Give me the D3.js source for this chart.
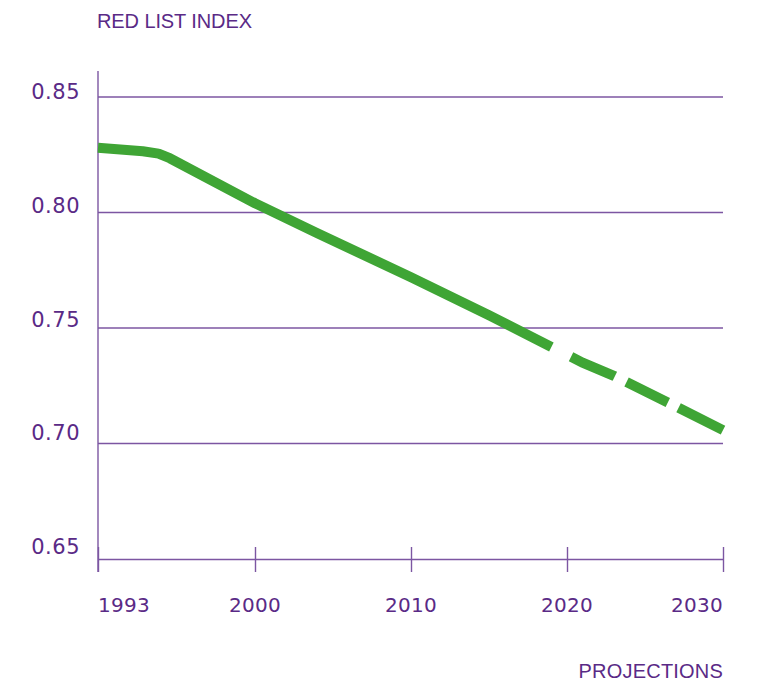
<!DOCTYPE html>
<html>
<head>
<meta charset="utf-8">
<script src="https://cdn.jsdelivr.net/npm/d3@7"></script>
<style>
  html, body { margin: 0; padding: 0; background: #fff; }
  svg { display: block; }
</style>
</head>
<body>
<svg id="chart" width="759" height="681"></svg>
<script>
// ---- data ----
const yTicks = [0.65, 0.70, 0.75, 0.80, 0.85];
const xTicks = [1993, 2000, 2010, 2020, 2030];
const histYears  = [1993, 1995, 1995.7, 1996.2, 2000, 2004, 2010, 2015, 2019];
const histValues = [0.828, 0.8265, 0.8255, 0.8235, 0.804, 0.791, 0.772, 0.7555, 0.7418];
const projYears  = [2019, 2021, 2023, 2027, 2030];
const projValues = [0.7418, 0.735, 0.7293, 0.716, 0.7058];
const yTitle = "RED LIST INDEX";
const xNote = "PROJECTIONS";

// ---- layout ----
const purple = "#5a2a86";
const gridCol = "#7c56a2";
const green = "#3fa535";
const svg = d3.select("#chart");

const x = d3.scaleLinear().domain([1993, 2000, 2030]).range([98, 255, 723]);
const y = d3.scaleLinear().domain([0.65, 0.85]).range([559, 97]);
const yLab = d3.scaleLinear().domain([0.65, 0.85]).range([554, 99]);

// gridlines
svg.append("g").selectAll("line")
  .data(yTicks.filter(d => d > 0.65))
  .join("line")
  .attr("x1", x(1993)).attr("x2", x(2030))
  .attr("y1", d => y(d)).attr("y2", d => y(d))
  .attr("stroke", gridCol).attr("stroke-width", 1.4);

// y axis line
svg.append("line")
  .attr("x1", x(1993)).attr("x2", x(1993))
  .attr("y1", 71).attr("y2", 572)
  .attr("stroke", gridCol).attr("stroke-width", 1.4);

// x axis
const xAxis = d3.axisBottom(x).tickValues(xTicks).tickSizeInner(13).tickSizeOuter(0).tickFormat("");
const gx = svg.append("g").attr("transform", `translate(0,${y(0.65)})`).call(xAxis);
gx.select(".domain").attr("stroke", gridCol).attr("stroke-width", 1.4);
gx.selectAll(".tick line").attr("stroke", gridCol).attr("stroke-width", 1.4).attr("y1", -12);

// x labels
svg.append("g").selectAll("text")
  .data(xTicks).join("text")
  .attr("x", d => x(d))
  .attr("y", 612)
  .attr("text-anchor", (d, i) => i === 0 ? "start" : (i === xTicks.length - 1 ? "end" : "middle"))
  .attr("font-family", "DejaVu Sans, sans-serif")
  .attr("font-size", 20)
  .attr("letter-spacing", 0.3)
  .attr("fill", purple)
  .text(d => d);

// y labels
svg.append("g").selectAll("text")
  .data(yTicks).join("text")
  .attr("x", 80)
  .attr("y", d => yLab(d))
  .attr("text-anchor", "end")
  .attr("font-family", "DejaVu Sans, sans-serif")
  .attr("font-size", 21)
  .attr("letter-spacing", 0.5)
  .attr("fill", purple)
  .text(d => d3.format(".2f")(d));

// titles
svg.append("text")
  .attr("x", 97).attr("y", 28)
  .attr("font-family", "Liberation Sans, Arial, sans-serif")
  .attr("font-size", 20)
  .attr("letter-spacing", -0.1)
  .attr("fill", purple)
  .text(yTitle);

svg.append("text")
  .attr("x", 723).attr("y", 678)
  .attr("text-anchor", "end")
  .attr("font-family", "Liberation Sans, Arial, sans-serif")
  .attr("font-size", 20)
  .attr("letter-spacing", 0.2)
  .attr("fill", purple)
  .text(xNote);

// lines
const line = d3.line().x(d => x(d[0])).y(d => y(d[1])).curve(d3.curveLinear);

svg.append("path")
  .datum(histYears.map((d, i) => [d, histValues[i]]))
  .attr("d", line)
  .attr("fill", "none")
  .attr("stroke", green)
  .attr("stroke-width", 10)
  .attr("stroke-linejoin", "round");

svg.append("path")
  .datum(projYears.map((d, i) => [d, projValues[i]]))
  .attr("d", line)
  .attr("fill", "none")
  .attr("stroke", green)
  .attr("stroke-width", 10)
  .attr("stroke-dasharray", "0 22 48 13 46 12 70");
</script>
</body>
</html>
